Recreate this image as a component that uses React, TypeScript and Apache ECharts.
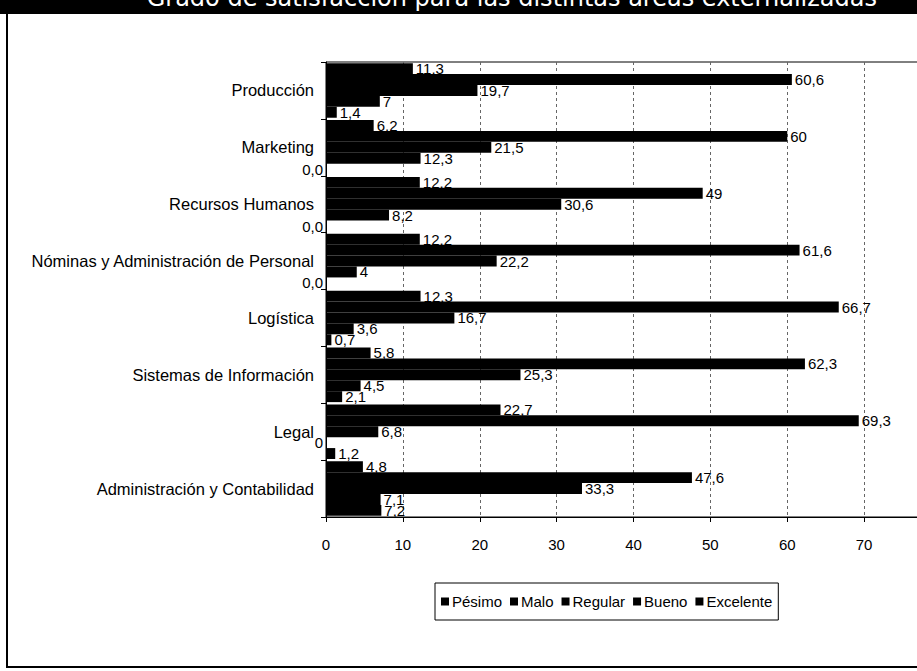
import React, { useEffect, useRef } from "react";
import * as echarts from "echarts";

const categories = [
  "Producción",
  "Marketing",
  "Recursos Humanos",
  "Nóminas y Administración de Personal",
  "Logística",
  "Sistemas de Información",
  "Legal",
  "Administración y Contabilidad",
];

const seriesNames = ["Pésimo", "Malo", "Regular", "Bueno", "Excelente"];

// values as printed on the chart (comma decimals)
const pesimo = ["1,4", "0,0", "0,0", "0,0", "0,7", "2,1", "1,2", "7,2"];
const malo = ["7", "12,3", "8,2", "4", "3,6", "4,5", "0", "7,1"];
const regular = ["19,7", "21,5", "30,6", "22,2", "16,7", "25,3", "6,8", "33,3"];
const bueno = ["60,6", "60", "49", "61,6", "66,7", "62,3", "69,3", "47,6"];
const excelente = ["11,3", "6,2", "12,2", "12,2", "12,3", "5,8", "22,7", "4,8"];

const xMin = 0;
const xMax = 80;
const xInterval = 10;

const titleText = "Grado de satisfacción para las distintas áreas externalizadas";

const FONT = "'Liberation Sans', Arial, sans-serif";

function toData(arr: string[]) {
  return arr.map((s) => {
    const v = parseFloat(s.replace(",", "."));
    return {
      value: v,
      text: s,
      label: v === 0 ? { position: "left" as const } : undefined,
    };
  });
}

export default function App() {
  const ref = useRef<HTMLDivElement>(null);

  useEffect(() => {
    if (!ref.current) return;
    const chart = echarts.init(ref.current, null, { renderer: "svg" });

    const seriesArrays: Record<string, string[]> = {
      "Pésimo": pesimo,
      "Malo": malo,
      "Regular": regular,
      "Bueno": bueno,
      "Excelente": excelente,
    };

    // top of each group = Excelente, bottom = Pésimo
    const order = [...seriesNames].reverse();

    const series = order.map((name) => ({
      name,
      type: "bar" as const,
      data: toData(seriesArrays[name]),
      barGap: "0%",
      barCategoryGap: "4%",
      itemStyle: { color: "#000" },
      label: {
        show: true,
        position: "right" as const,
        distance: 3,
        color: "#000",
        fontSize: 15,
        fontFamily: FONT,
        formatter: (p: any) => p.data.text,
      },
    }));

    chart.setOption({
      animation: false,
      backgroundColor: "#fff",
      textStyle: { fontFamily: FONT },
      graphic: [
        {
          type: "rect",
          shape: { x: 0, y: 0, width: 917, height: 14 },
          style: { fill: "#000" },
          z: 100,
        },
        {
          type: "text",
          x: 877,
          y: 10,
          style: {
            text: titleText,
            fill: "#fff",
            font: "24px 'DejaVu Sans', sans-serif",
            textAlign: "right",
            textVerticalAlign: "bottom",
          },
          z: 101,
        },
        {
          type: "line",
          shape: { x1: 7, y1: 0, x2: 7, y2: 667 },
          style: { stroke: "#000", lineWidth: 2 },
          z: 100,
        },
        {
          type: "line",
          shape: { x1: 6, y1: 667, x2: 917, y2: 667 },
          style: { stroke: "#000", lineWidth: 2 },
          z: 100,
        },
      ],
      legend: {
        data: seriesNames,
        left: 435,
        top: 583,
        orient: "horizontal",
        padding: [11, 6],
        borderColor: "#000",
        borderWidth: 1,
        itemWidth: 8,
        itemHeight: 8,
        itemGap: 8,
        icon: "rect",
        textStyle: { color: "#000", fontSize: 15, fontFamily: FONT, padding: [0, 0, 0, -2] },
      },
      grid: {
        left: 326,
        width: 615,
        top: 62,
        bottom: 154,
        outerBoundsMode: "none",
        containLabel: false,
        show: true,
        borderColor: "#000",
        borderWidth: 1,
        backgroundColor: "transparent",
      },
      xAxis: {
        type: "value",
        min: xMin,
        max: xMax,
        interval: xInterval,
        axisLine: { show: true, lineStyle: { color: "#000", width: 1 } },
        axisTick: { show: true, length: 5, lineStyle: { color: "#000" } },
        axisLabel: {
          color: "#000",
          fontSize: 15,
          fontFamily: FONT,
          margin: 20,
          showMaxLabel: false,
        },
        splitLine: {
          show: true,
          lineStyle: { color: "#666", type: [3, 3], width: 1 },
        },
      },
      yAxis: {
        type: "category",
        data: categories,
        inverse: true,
        axisLine: { show: true, lineStyle: { color: "#000", width: 1 } },
        axisTick: { show: true, length: 5, lineStyle: { color: "#000" } },
        axisLabel: { color: "#000", fontSize: 16.5, fontFamily: FONT, margin: 12 },
        splitLine: { show: false },
      },
      series,
    });

    return () => chart.dispose();
  }, []);

  return (
    <div
      ref={ref}
      style={{ position: "fixed", left: 0, top: 0, width: 917, height: 671 }}
    />
  );
}
